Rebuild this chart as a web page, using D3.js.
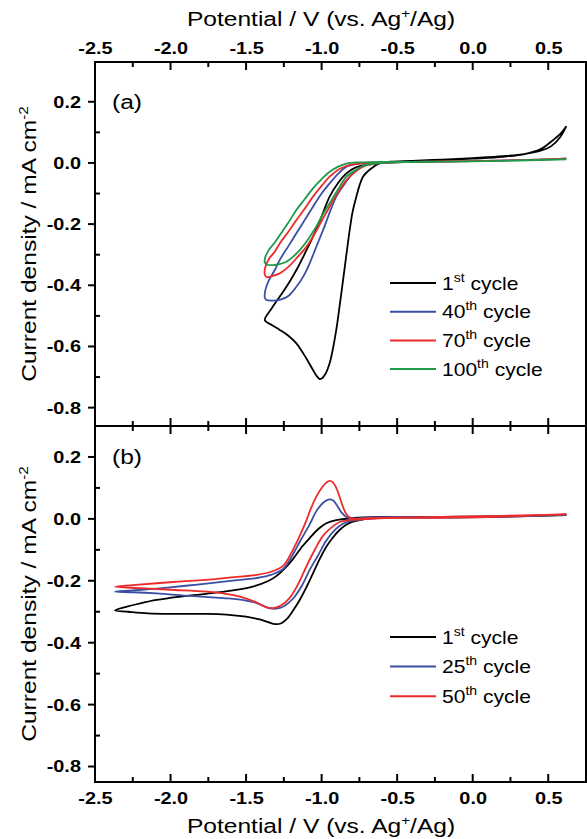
<!DOCTYPE html>
<html>
<head>
<meta charset="utf-8">
<script src="https://cdn.jsdelivr.net/npm/d3@7"></script>
<style>
  body { margin: 0; background: #fff; }
  svg { display: block; }
  text { font-family: "Liberation Sans", Arial, sans-serif; }
</style>
</head>
<body>
<svg id="chart" width="587" height="839"></svg>
<script>
// ---- data: [potential V, current density mA cm-2] in scan order ----
// panel (a)
var cycA1 = [[0.62,0.12],[0.58,0.085],[0.52,0.055],[0.45,0.04],[0.35,0.03],[0.2,0.022],[0.0,0.016],[-0.2,0.011],[-0.4,0.007],[-0.55,0.004],[-0.62,-0.002],[-0.66,-0.014],[-0.7,-0.03],[-0.726,-0.045],[-0.75,-0.075],[-0.77,-0.11],[-0.795,-0.16],[-0.814,-0.219],[-0.836,-0.3],[-0.858,-0.383],[-0.88,-0.465],[-0.903,-0.546],[-0.925,-0.607],[-0.947,-0.655],[-0.975,-0.69],[-1.0,-0.705],[-1.015,-0.706],[-1.035,-0.695],[-1.057,-0.677],[-1.1,-0.64],[-1.167,-0.59],[-1.22,-0.565],[-1.277,-0.546],[-1.33,-0.53],[-1.376,-0.514],
  [-1.33,-0.475],[-1.277,-0.437],[-1.22,-0.395],[-1.167,-0.35],[-1.11,-0.295],[-1.057,-0.241],[-1.0,-0.175],[-0.947,-0.11],[-0.89,-0.065],[-0.836,-0.034],[-0.78,-0.016],[-0.7,-0.006],[-0.6,0.0],[-0.45,0.004],[-0.2,0.009],[0.0,0.014],[0.2,0.02],[0.35,0.03],[0.45,0.045],[0.52,0.07],[0.58,0.095],[0.62,0.12]];
var cycA40 = [[0.62,0.014],[0.4,0.01],[0.0,0.006],[-0.4,0.003],[-0.6,0.0],[-0.7,-0.005],[-0.793,-0.034],[-0.85,-0.07],[-0.903,-0.11],[-0.99,-0.219],[-1.04,-0.28],[-1.079,-0.328],[-1.12,-0.37],[-1.167,-0.405],[-1.22,-0.435],[-1.277,-0.448],[-1.33,-0.45],[-1.365,-0.448],[-1.376,-0.44],[-1.372,-0.415],[-1.35,-0.385],[-1.31,-0.35],[-1.277,-0.317],[-1.22,-0.272],[-1.167,-0.23],[-1.11,-0.185],[-1.057,-0.143],[-1.0,-0.1],[-0.947,-0.067],[-0.89,-0.035],[-0.836,-0.012],[-0.75,-0.002],[-0.6,0.002],[-0.3,0.004],[0.0,0.006],[0.3,0.009],[0.62,0.014]];
var cycA70 = [[0.62,0.014],[0.3,0.009],[0.0,0.006],[-0.4,0.003],[-0.6,0.0],[-0.726,-0.012],[-0.78,-0.03],[-0.836,-0.056],[-0.89,-0.095],[-0.947,-0.143],[-1.0,-0.19],[-1.057,-0.241],[-1.11,-0.28],[-1.167,-0.312],[-1.22,-0.34],[-1.277,-0.361],[-1.33,-0.37],[-1.365,-0.373],[-1.376,-0.365],[-1.375,-0.345],[-1.35,-0.315],[-1.31,-0.29],[-1.277,-0.263],[-1.22,-0.225],[-1.167,-0.187],[-1.11,-0.148],[-1.057,-0.11],[-1.0,-0.075],[-0.947,-0.045],[-0.89,-0.022],[-0.836,-0.01],[-0.75,-0.002],[-0.6,0.002],[-0.3,0.004],[0.0,0.006],[0.3,0.009],[0.62,0.014]];
var cycA100 = [[0.62,0.012],[0.3,0.008],[0.0,0.005],[-0.4,0.003],[-0.6,0.0],[-0.726,-0.01],[-0.78,-0.025],[-0.836,-0.045],[-0.89,-0.085],[-0.947,-0.132],[-1.0,-0.175],[-1.035,-0.208],[-1.09,-0.25],[-1.145,-0.285],[-1.19,-0.307],[-1.233,-0.323],[-1.28,-0.331],[-1.32,-0.334],[-1.36,-0.333],[-1.376,-0.325],[-1.374,-0.31],[-1.35,-0.285],[-1.31,-0.26],[-1.277,-0.236],[-1.22,-0.195],[-1.167,-0.154],[-1.11,-0.117],[-1.057,-0.083],[-1.0,-0.053],[-0.947,-0.029],[-0.89,-0.012],[-0.836,-0.002],[-0.75,0.002],[-0.6,0.003],[-0.3,0.004],[0.0,0.005],[0.3,0.008],[0.62,0.012]];

// panel (b)
var cycB1 = [[0.62,0.012],[0.3,0.008],[0.0,0.006],[-0.3,0.005],[-0.5,0.005],[-0.65,0.003],[-0.75,-0.004],[-0.793,-0.009],[-0.84,-0.02],[-0.881,-0.036],[-0.925,-0.06],[-0.969,-0.09],[-1.013,-0.13],[-1.057,-0.176],[-1.1,-0.22],[-1.145,-0.262],[-1.19,-0.297],[-1.233,-0.325],[-1.27,-0.338],[-1.31,-0.34],[-1.36,-0.333],[-1.41,-0.325],[-1.5,-0.316],[-1.63,-0.309],[-1.8,-0.307],[-2.0,-0.307],[-2.15,-0.305],[-2.28,-0.3],[-2.368,-0.296],
  [-2.3,-0.285],[-2.2,-0.273],[-2.092,-0.262],[-1.95,-0.252],[-1.762,-0.242],[-1.6,-0.232],[-1.45,-0.218],[-1.35,-0.2],[-1.3,-0.185],[-1.25,-0.163],[-1.19,-0.13],[-1.13,-0.09],[-1.079,-0.062],[-1.02,-0.032],[-0.969,-0.014],[-0.903,-0.004],[-0.8,0.002],[-0.6,0.006],[-0.3,0.006],[0.0,0.007],[0.3,0.009],[0.62,0.012]];
var cycB25 = [[0.62,0.013],[0.3,0.008],[0.0,0.005],[-0.3,0.004],[-0.5,0.004],[-0.65,0.002],[-0.75,-0.002],[-0.82,-0.008],[-0.859,-0.016],[-0.91,-0.035],[-0.969,-0.07],[-1.02,-0.115],[-1.079,-0.165],[-1.13,-0.215],[-1.19,-0.258],[-1.25,-0.282],[-1.3,-0.29],[-1.35,-0.288],[-1.43,-0.272],[-1.55,-0.26],[-1.652,-0.256],[-1.872,-0.249],[-2.092,-0.241],[-2.25,-0.237],[-2.368,-0.235],
  [-2.25,-0.231],[-2.092,-0.225],[-1.9,-0.216],[-1.762,-0.209],[-1.6,-0.2],[-1.43,-0.191],[-1.33,-0.18],[-1.255,-0.162],[-1.19,-0.115],[-1.14,-0.07],[-1.079,-0.018],[-1.035,0.025],[-0.99,0.052],[-0.95,0.063],[-0.925,0.06],[-0.9,0.045],[-0.87,0.022],[-0.836,0.006],[-0.8,0.001],[-0.7,0.004],[-0.5,0.006],[-0.2,0.006],[0.1,0.008],[0.4,0.01],[0.62,0.013]];
var cycB50 = [[0.62,0.015],[0.3,0.009],[0.0,0.005],[-0.3,0.003],[-0.5,0.003],[-0.65,0.001],[-0.75,-0.002],[-0.82,-0.004],[-0.881,-0.01],[-0.94,-0.03],[-0.991,-0.055],[-1.04,-0.095],[-1.1,-0.153],[-1.16,-0.215],[-1.211,-0.255],[-1.27,-0.28],[-1.32,-0.288],[-1.37,-0.285],[-1.43,-0.27],[-1.54,-0.251],[-1.65,-0.241],[-1.762,-0.235],[-2.0,-0.229],[-2.2,-0.224],[-2.368,-0.219],
  [-2.25,-0.214],[-2.092,-0.208],[-1.9,-0.201],[-1.762,-0.197],[-1.6,-0.189],[-1.43,-0.181],[-1.33,-0.17],[-1.255,-0.152],[-1.19,-0.1],[-1.145,-0.055],[-1.1,-0.004],[-1.07,0.035],[-1.035,0.072],[-1.0,0.1],[-0.969,0.117],[-0.947,0.123],[-0.925,0.118],[-0.903,0.1],[-0.88,0.07],[-0.859,0.039],[-0.836,0.015],[-0.815,0.005],[-0.78,0.0],[-0.7,0.002],[-0.5,0.004],[-0.2,0.006],[0.1,0.009],[0.4,0.012],[0.62,0.015]];

var cycleNumA = ['1', '40', '70', '100'];
var cycleSupA = ['st', 'th', 'th', 'th'];
var cycleNumB = ['1', '25', '50'];
var cycleSupB = ['st', 'th', 'th'];

var xMajor = [-2.5, -2.0, -1.5, -1.0, -0.5, 0.0, 0.5];
var xMinor = [-2.25, -1.75, -1.25, -0.75, -0.25, 0.25];
var yMajor = [-0.8, -0.6, -0.4, -0.2, 0.0, 0.2];
var yMinor = [-0.7, -0.5, -0.3, -0.1, 0.1];

// ---- layout ----
var svg = d3.select('#chart');
var L = 95, R = 586, T = 62, M = 426, B = 782;
var SX = 1.17; // text is a bit wider than Arial in the source
var font = '"Liberation Sans", Arial, sans-serif';

var colA = ['#000000', '#3b4fa3', '#ee2b2b', '#1e9b48'];
var colB = ['#000000', '#3b4fa3', '#ee2b2b'];

var x = d3.scaleLinear().domain([-2.5, 0.75]).range([L, R]);
var ya = d3.scaleLinear().domain([-0.86, 0.33]).range([M, T]);
var yb = d3.scaleLinear().domain([-0.85, 0.30]).range([B, M]);

var fmt = function(d) { return d.toFixed(1); };

// tick labels from d3 axes (tick marks drawn separately below)
function addLabels(axis, tx, ty) {
  var g = svg.append('g')
    .attr('transform', 'translate(' + tx + ',' + ty + ')')
    .call(axis);
  g.select('.domain').remove();
  g.selectAll('.tick line').remove();
  g.attr('font-family', font).attr('font-size', 17).attr('font-weight', 'bold');
  g.selectAll('.tick text').attr('fill', '#000').attr('transform', 'scale(' + SX + ',1)');
}
addLabels(d3.axisTop(x).tickValues(xMajor).tickSize(0).tickPadding(8).tickFormat(fmt), 0, T);
addLabels(d3.axisBottom(x).tickValues(xMajor).tickSize(0).tickPadding(10).tickFormat(fmt), 0, B);
addLabels(d3.axisLeft(ya).tickValues(yMajor).tickSize(0).tickPadding(12).tickFormat(fmt), L, 0);
addLabels(d3.axisLeft(yb).tickValues(yMajor).tickSize(0).tickPadding(12).tickFormat(fmt), L, 0);

// tick marks
function xTicks(vals, y0, y1) {
  svg.append('g').selectAll('line').data(vals).join('line')
    .attr('x1', function(d) { return x(d); }).attr('x2', function(d) { return x(d); })
    .attr('y1', y0).attr('y2', y1)
    .attr('stroke', '#000').attr('stroke-width', 2);
}
function yTicks(vals, y, x0, x1) {
  svg.append('g').selectAll('line').data(vals).join('line')
    .attr('y1', function(d) { return y(d); }).attr('y2', function(d) { return y(d); })
    .attr('x1', x0).attr('x2', x1)
    .attr('stroke', '#000').attr('stroke-width', 2);
}
xTicks(xMajor, T, T + 8);
xTicks(xMinor, T, T + 5);
xTicks(xMajor, M - 8, M + 8);
xTicks(xMinor, M - 5, M + 5);
xTicks(xMajor, B - 8, B);
xTicks(xMinor, B - 5, B);
[ya, yb].forEach(function(y) {
  yTicks(yMajor, y, L - 7, L);
  yTicks(yMinor, y, L, L + 5);
});

// frames
svg.append('rect').attr('x', L).attr('y', T).attr('width', R - L).attr('height', M - T)
  .attr('fill', 'none').attr('stroke', '#000').attr('stroke-width', 2);
svg.append('rect').attr('x', L).attr('y', M).attr('width', R - L).attr('height', B - M)
  .attr('fill', 'none').attr('stroke', '#000').attr('stroke-width', 2);

// curves
function drawCycles(data, y, cols) {
  var line = d3.line()
    .x(function(d) { return x(d[0]); })
    .y(function(d) { return y(d[1]); })
    .curve(d3.curveCatmullRom.alpha(0.5));
  data.forEach(function(s, i) {
    svg.append('path')
      .attr('d', line(s))
      .attr('fill', 'none')
      .attr('stroke', cols[i])
      .attr('stroke-width', 1.8)
      .attr('stroke-linejoin', 'round');
  });
}
drawCycles([cycA1, cycA40, cycA70, cycA100], ya, colA);
drawCycles([cycB1, cycB25, cycB50], yb, colB);

// text helper (stretched horizontally like the source)
function addText(tx, ty, rot, size) {
  return svg.append('text')
    .attr('transform', 'translate(' + tx + ',' + ty + ')' + (rot ? ' rotate(' + rot + ')' : '') + ' scale(' + SX + ',1)')
    .attr('font-family', font)
    .attr('font-size', size)
    .attr('fill', '#000');
}

// axis titles
function xTitle(ty) {
  var t = addText(321, ty, 0, 21).attr('text-anchor', 'middle');
  t.append('tspan').text('Potential / V (vs. Ag');
  t.append('tspan').attr('dy', -8).attr('font-size', 13).text('+');
  t.append('tspan').attr('dy', 8).text('/Ag)');
}
xTitle(26);
xTitle(833);

function yTitle(cy) {
  var t = addText(36, cy, -90, 21).attr('text-anchor', 'middle');
  t.append('tspan').text('Current density / mA cm');
  t.append('tspan').attr('dy', -8).attr('font-size', 13).text('-2');
}
yTitle((T + M) / 2);
yTitle((M + B) / 2);

// panel labels
addText(112, ya(0.2) + 7, 0, 21).text('(a)');
addText(112, yb(0.2) + 7, 0, 21).text('(b)');

// legends
function legend(nums, sups, cols, x0, y0, step) {
  nums.forEach(function(n, i) {
    var yy = y0 + i * step;
    svg.append('line')
      .attr('x1', x0).attr('x2', x0 + 46)
      .attr('y1', yy).attr('y2', yy)
      .attr('stroke', cols[i]).attr('stroke-width', 2);
    var t = addText(x0 + 52, yy + 6.5, 0, 18);
    t.append('tspan').text(n);
    t.append('tspan').attr('dy', -8).attr('font-size', 12).text(sups[i]);
    t.append('tspan').attr('dy', 8).text(' cycle');
  });
}
legend(cycleNumA, cycleSupA, colA, 390, 283, 28.7);
legend(cycleNumB, cycleSupB, colB, 390, 637, 29.6);
</script>
</body>
</html>
